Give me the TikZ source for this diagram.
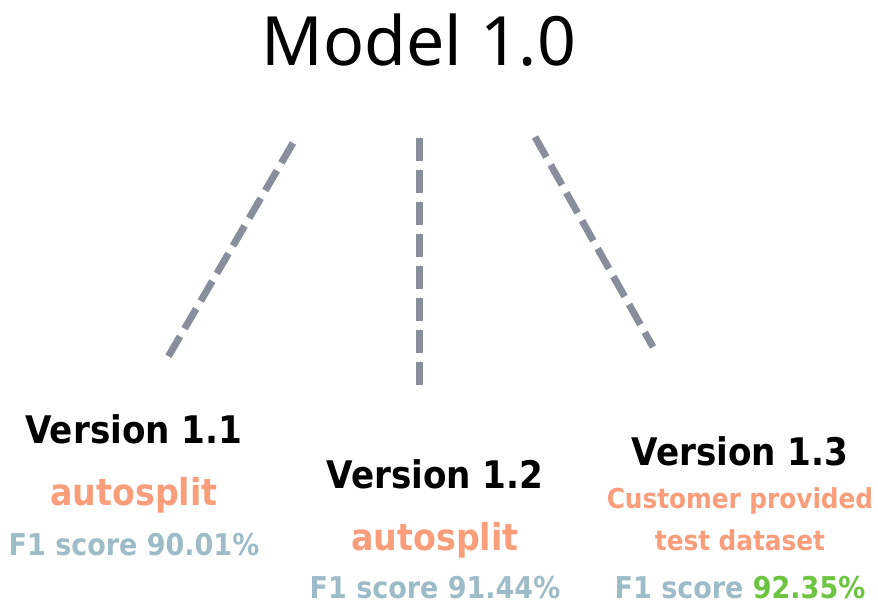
\documentclass[tikz,border=0pt]{standalone}
\usepackage{xcolor}
\usepackage{fontspec}
\setmainfont{DejaVu Sans Condensed}
\newfontfamily\headfont{Noto Sans}
\usepackage{tikz}
\usetikzlibrary{positioning}

\definecolor{splitorange}{HTML}{F99D7B}
\definecolor{scoreblue}{HTML}{9EBCC8}
\definecolor{scoregreen}{HTML}{6CC440}
\definecolor{branchgray}{HTML}{888E9C}

\begin{document}
\begin{tikzpicture}[x=1pt, y=-1pt,
head/.style={inner sep=0pt, anchor=base, font=\headfont\fontsize{68}{68}\selectfont},
version/.style={inner sep=0pt, anchor=base, font=\bfseries\fontsize{38}{38}\selectfont},
method/.style={inner sep=0pt, anchor=base, text=splitorange, font=\bfseries\fontsize{37}{37}\selectfont},
score/.style={inner sep=0pt, anchor=base, text=scoreblue, font=\bfseries\fontsize{30}{30}\selectfont},
branch/.style={draw=branchgray, line width=7pt, dash pattern=on 23pt off 9pt}
]
	\useasboundingbox (0,0) rectangle (878,606);
	\node[head] (model) at (419,65) {Model 1.0};
	% branch ends
	\coordinate (b1s) at (293,143);
	\coordinate (b1e) at (168,357);
	\coordinate (b2s) at (419,138);
	\coordinate (b2e) at (419,385);
	\coordinate (b3s) at (535,137);
	\coordinate (b3e) at (653,347);
	% version 1.1
	\node[version] (v11) at (134,443) {Version 1.1};
	\node[method, shift={(0,62)}] (m11) at (v11.base) {autosplit};
	\node[score, shift={(0,50)}] (s11) at (m11.base) {F1 score 90.01\%};
	% version 1.2
	\node[version] (v12) at (435,488) {Version 1.2};
	\node[method, shift={(0,62)}] (m12) at (v12.base) {autosplit};
	\node[score, shift={(0,48)}] (s12) at (m12.base) {F1 score 91.44\%};
	% version 1.3
	\node[version] (v13) at (740,465) {Version 1.3};
	\node[method, font=\bfseries\fontsize{27.5}{27.5}\selectfont, shift={(0,43)}] (m13) at (v13.base) {Customer provided};
	\node[method, font=\bfseries\fontsize{27.5}{27.5}\selectfont, shift={(0,42)}] (d13) at (m13.base) {test dataset};
	\node[score, shift={(0,48)}] (s13) at (d13.base) {F1 score \textcolor{scoregreen}{92.35\%}};
	\draw[branch] (b1s) -- (b1e);
	\draw[branch] (b2s) -- (b2e);
	\draw[branch] (b3s) -- (b3e);
\end{tikzpicture}
\end{document}
